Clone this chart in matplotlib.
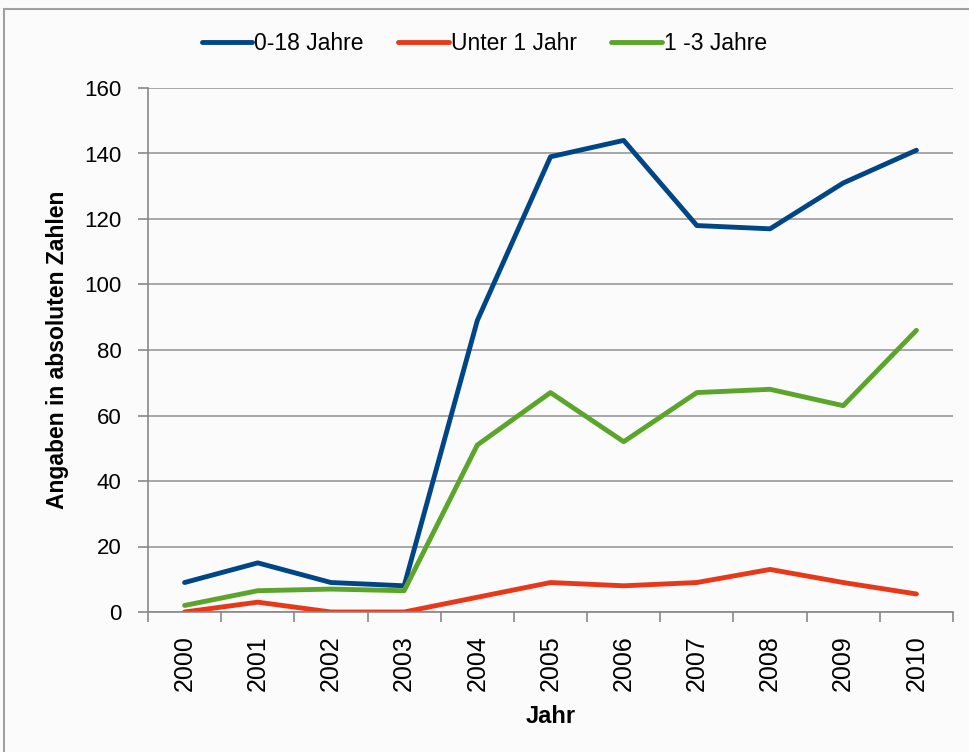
import matplotlib
matplotlib.use("Agg")
import matplotlib.pyplot as plt
from matplotlib.patches import Rectangle

plt.rcParams['font.family'] = ['Liberation Sans', 'DejaVu Sans']

years = ["2000", "2001", "2002", "2003", "2004", "2005", "2006", "2007", "2008", "2009", "2010"]
total_0_18 = [9, 15, 9, 8, 89, 139, 144, 118, 117, 131, 141]
unter_1 = [0, 3, 0, 0, 4.5, 9, 8, 9, 13, 9, 5.5]
jahre_1_3 = [2, 6.5, 7, 6.5, 51, 67, 52, 67, 68, 63, 86]

fig = plt.figure(figsize=(9.69, 7.52), dpi=100)
fig.patch.set_facecolor('#fbfbfb')
fig.patches.append(Rectangle((4/969, -0.01), 1.0, 1 - 9/752 + 0.01, transform=fig.transFigure,
                             fill=False, edgecolor='#a0a0a0', linewidth=1.5))

ax = fig.add_axes([148/969, 1 - 612/752, (953 - 148)/969, (612 - 88)/752])
ax.set_facecolor('#fbfbfb')
x = list(range(len(years)))
ax.plot(x, total_0_18, color='#004586', lw=3.5, label='0-18 Jahre', solid_capstyle='round')
ax.plot(x, unter_1, color='#e8381a', lw=3.5, label='Unter 1 Jahr', solid_capstyle='round')
ax.plot(x, jahre_1_3, color='#5ba52a', lw=3.5, label='1 -3 Jahre', solid_capstyle='round')

ax.set_xlim(-0.5, len(years) - 0.5)
ax.set_ylim(0, 160)
ax.set_yticks(range(0, 161, 20))
ax.set_xticks(x)
ax.set_xticklabels(years, rotation=90, fontsize=18)
ax.tick_params(axis='x', length=0, pad=17)
ax.set_xticks([i - 0.5 for i in range(len(years) + 1)], minor=True)
ax.tick_params(axis='x', which='minor', length=7, color='#888888', width=1.2)
ax.tick_params(axis='y', labelsize=16, length=7, color='#888888', width=1.2, pad=12)
ax.grid(axis='y', color='#999999', lw=1.2)
ax.set_axisbelow(True)
for s in ['top', 'right']:
    ax.spines[s].set_visible(False)
for s in ['left', 'bottom']:
    ax.spines[s].set_color('#888888')
    ax.spines[s].set_linewidth(1.2)

ax.set_xlabel('Jahr', fontsize=17, fontweight='bold', labelpad=10)
ax.set_ylabel('Angaben in absoluten Zahlen', fontsize=16.5, fontweight='bold', labelpad=11)

fig.legend(loc='center', bbox_to_anchor=(0.5, 1 - 44/752), ncol=3, frameon=False,
           fontsize=16.5, handlelength=2.2, handletextpad=0.1, columnspacing=1.5)

fig.savefig('out.png', dpi=100, facecolor=fig.get_facecolor())
